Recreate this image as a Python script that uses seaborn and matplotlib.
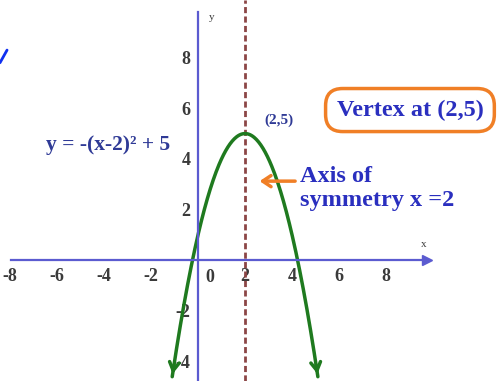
import numpy as np
import pandas as pd
import seaborn as sns
import matplotlib.pyplot as plt

# parabola y = a(x-h)^2 + k, as written on the chart
a, h, k = -1, 2, 5
x_ends = [-1.1, 5.1]
x_ticks = [-8, -6, -4, -2, 2, 4, 6, 8]
y_ticks = [-4, -2, 2, 4, 6, 8]
eq_label = "y = -(x-2)² + 5"
vertex_label = "(2,5)"
vertex_box = "Vertex at (2,5)"
axis_label = "Axis of\nsymmetry x =2"

blue_axis = "#5b5bd0"
green = "#1f7a1f"
maroon = "#8c4646"
orange = "#f07f26"
text_blue = "#2a2fbf"
navy = "#2f3a96"

sns.set_style("white")
plt.rcParams["font.family"] = ["Liberation Serif", "DejaVu Serif"]
plt.rcParams["axes.unicode_minus"] = False

xs = np.linspace(x_ends[0], x_ends[1], 200)
df = pd.DataFrame({"x": xs, "y": a * (xs - h) ** 2 + k})

fig = plt.figure(figsize=(5.03, 3.81), dpi=100)
ax = fig.add_axes([0, 0, 1, 1])
ax.set_xlim(-8.43, 12.98)
ax.set_ylim(-4.78, 10.28)

# axes through origin
for s in ["top", "right"]:
    ax.spines[s].set_visible(False)
ax.spines["left"].set_position(("data", 0))
ax.spines["bottom"].set_position(("data", 0))
ax.spines["left"].set_bounds(-4.8, 9.8)
ax.spines["bottom"].set_bounds(-7.95, 9.7)
for s in ["left", "bottom"]:
    ax.spines[s].set_color(blue_axis)
    ax.spines[s].set_linewidth(1.6)
ax.plot([9.75], [0], marker=">", ms=7, color=blue_axis, clip_on=False)

# axis of symmetry
ax.axvline(h, color=maroon, lw=2, ls=(0, (2.2, 1.2)))

# parabola
sns.lineplot(data=df, x="x", y="y", ax=ax, color=green, lw=2.5, sort=False)
for i, j in [(0, 3), (-1, -4)]:
    ax.annotate("", xy=(df["x"].iloc[i], df["y"].iloc[i]),
                xytext=(df["x"].iloc[j], df["y"].iloc[j]),
                arrowprops=dict(arrowstyle="->,head_length=0.6,head_width=0.35", color=green, lw=2.5))
ax.set_xlabel("")
ax.set_ylabel("")

ax.set_xticks(x_ticks)
ax.set_yticks(y_ticks)
ax.tick_params(axis="both", direction="inout", length=7, width=1.2, color=blue_axis,
               labelcolor="#3a3a3a", labelsize=13, pad=2)
for lab in ax.get_xticklabels() + ax.get_yticklabels():
    lab.set_fontweight("bold")
ax.text(0.5, -0.67, "0", ha="center", va="center", fontsize=13, fontweight="bold", color="#3a3a3a")
ax.text(0.6, 9.6, "y", ha="center", va="center", fontsize=8, color="#3a3a3a")
ax.text(9.6, 0.6, "x", ha="center", va="center", fontsize=8, color="#3a3a3a")

# labels
ax.text(-3.83, 4.55, eq_label, ha="center", va="center", fontsize=15.5, fontweight="bold", color=navy)
ax.text(3.45, 5.53, vertex_label, ha="center", va="center", fontsize=11, fontweight="bold", color=navy)
ax.text(9.02, 5.93, vertex_box, ha="center", va="center", fontsize=17.5, fontweight="bold", color=text_blue,
        bbox=dict(boxstyle="round,pad=0.45,rounding_size=0.7", fc="white", ec=orange, lw=2.5))
ax.text(4.34, 2.83, axis_label, ha="left", va="center", fontsize=17.5, fontweight="bold", color=text_blue,
        linespacing=1.15)
ax.annotate("", xy=(2.5, 3.12), xytext=(4.25, 3.12),
            arrowprops=dict(arrowstyle="->,head_length=0.6,head_width=0.4", color=orange, lw=2.5))

# stray pen mark at the left edge
ax.plot([-8.13, -8.43], [8.3, 7.8], color="#1030f0", lw=2, clip_on=False)

fig.savefig("out.png", dpi=100)
